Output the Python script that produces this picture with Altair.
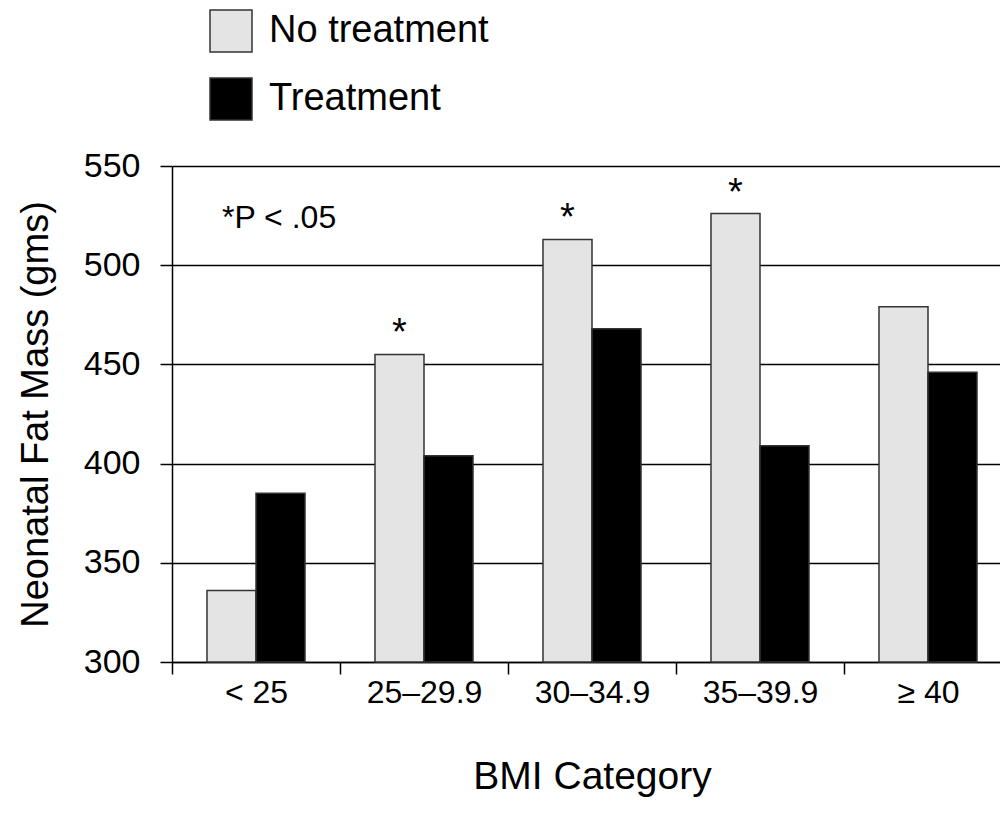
import altair as alt
import pandas as pd

categories = ["< 25", "25–29.9", "30–34.9", "35–39.9", "≥ 40"]
groups = ["No treatment", "Treatment"]
no_treatment = [336, 455, 513, 526, 479]
treatment = [385, 404, 468, 409, 446]
significant = [False, True, True, True, False]
y_ticks = [300, 350, 400, 450, 500, 550]
note_text = ["*P < .05"]
note_value = [524]

rows = []
for c, n, t, s in zip(categories, no_treatment, treatment, significant):
    rows.append({"bmi": c, "group": groups[0], "value": n, "star": "*" if s else ""})
    rows.append({"bmi": c, "group": groups[1], "value": t, "star": ""})
df = pd.DataFrame(rows)
note_df = pd.DataFrame({"label": note_text, "value": note_value})

FONT = "Liberation Sans"

x_enc = alt.X(
    "bmi:N",
    sort=categories,
    scale=alt.Scale(paddingInner=0, paddingOuter=0, range=[0, 840]),
    axis=alt.Axis(
        title="BMI Category",
        labelAngle=0,
        tickBand="extent",
        labelFontSize=32,
        titleFontSize=39,
        labelPadding=3,
        titlePadding=49,
        tickSize=12,
        grid=False,
    ),
)
xoff_enc = alt.XOffset(
    "group:N", sort=groups, scale=alt.Scale(paddingInner=0, paddingOuter=0.714)
)
y_enc = alt.Y(
    "value:Q",
    scale=alt.Scale(domain=[300, 550], nice=False, zero=False),
    axis=alt.Axis(
        title="Neonatal Fat Mass (gms)",
        values=y_ticks,
        labelFontSize=34,
        titleFontSize=38,
        labelPadding=20,
        titlePadding=28,
        tickSize=12,
        grid=True,
    ),
)

bars = alt.Chart(df).mark_bar(stroke="#333333", strokeWidth=1.5).encode(
    x=x_enc,
    xOffset=xoff_enc,
    y=y_enc,
    y2=alt.datum(300),
    color=alt.Color(
        "group:N",
        sort=groups,
        scale=alt.Scale(domain=groups, range=["#e4e4e4", "#000000"]),
        legend=alt.Legend(
            orient="none",
            legendX=37,
            legendY=-157,
            title=None,
            symbolType="square",
            symbolSize=1764,
            symbolStrokeColor="#333333",
            symbolStrokeWidth=1.5,
            labelFontSize=38,
            labelFont=FONT,
            labelColor="black",
            labelOffset=16,
            labelLimit=0,
            rowPadding=20,
        ),
    ),
)

stars = alt.Chart(df).mark_text(
    baseline="alphabetic", dy=-9, fontSize=38, font=FONT, color="black"
).encode(x=x_enc, xOffset=xoff_enc, y=y_enc, text="star:N")

note = alt.Chart(note_df).mark_text(
    align="left", baseline="middle", fontSize=32, font=FONT, color="black"
).encode(x=alt.value(50), y=alt.Y("value:Q"), text="label:N")

chart = (
    alt.layer(bars, stars, note)
    .properties(
        width=828,
        height=496,
        autosize=alt.AutoSizeParams(type="none"),
        padding={"left": 164, "top": 158, "right": 0, "bottom": 150},
    )
    .configure_view(stroke=None)
    .configure_axis(
        labelFont=FONT,
        titleFont=FONT,
        titleFontWeight="normal",
        labelColor="black",
        titleColor="black",
        domainColor="black",
        domainWidth=1.5,
        tickColor="black",
        tickWidth=1.5,
        gridColor="black",
        gridWidth=1.5,
        gridOpacity=1,
    )
)

chart.save("out.html", embed_options={"renderer": "svg", "actions": False})
